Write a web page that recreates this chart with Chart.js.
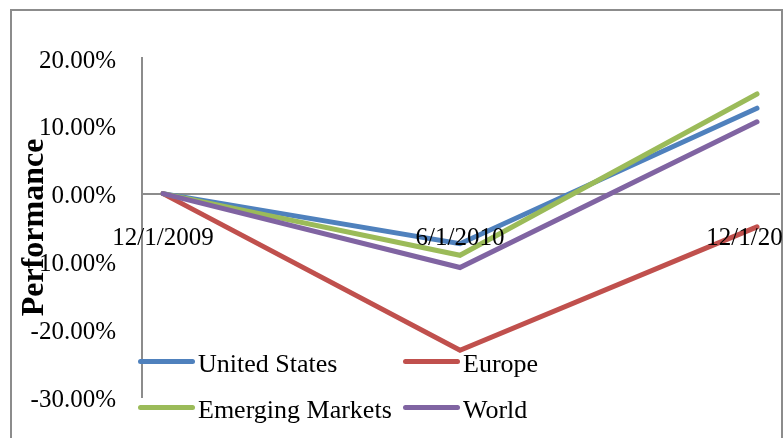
<!DOCTYPE html>
<html lang="en">
<head>
  <meta charset="UTF-8" />
  <title>Performance</title>
  <script src="https://cdn.jsdelivr.net/npm/chart.js"></script>
  <style>
    body {
      margin: 0;
      background: #fff;
      overflow: hidden;
    }
    .wrap {
      position: relative;
      width: 783px;
      height: 438px;
      overflow: hidden;
      font-family: 'Liberation Serif', 'Times New Roman', serif;
    }
    .frame {
      position: absolute;
      left: 10px;
      top: 9px;
      width: 769px;
      height: 440px;
      border: 2px solid #8c8c8c;
    }
    canvas {
      position: absolute;
      left: 0;
      top: 0;
    }
    .legend-item {
      position: absolute;
      height: 30px;
      line-height: 30px;
      font-size: 26px;
      color: #000;
      white-space: nowrap;
    }
    .legend-item .swatch {
      position: absolute;
      left: 0;
      top: 10px;
      width: 57px;
      height: 5px;
      border-radius: 3px;
    }
    .legend-item .txt {
      margin-left: 60px;
    }
  </style>
</head>
<body>
  <div class="wrap">
    <div class="frame"></div>
    <canvas id="chart" width="783" height="438"></canvas>
    <div id="legend"></div>
  </div>
<script>
    // dates on the x axis
    const categories = ['12/1/2009', '6/1/2010', '12/1/2010'];

    // performance in percent
    const unitedStates    = [0, -7.4, 12.6];
    const europe          = [0, -23.1, -4.9];
    const emergingMarkets = [0, -9.1, 14.7];
    const world           = [0, -10.9, 10.6];

    const seriesNames  = ['United States', 'Europe', 'Emerging Markets', 'World'];
    const seriesValues = [unitedStates, europe, emergingMarkets, world];
    const seriesColors = ['#4f81bd', '#c0504d', '#9bbb59', '#8064a2'];

    const yTicks = [-30, -20, -10, 0, 10, 20];

    const fontFamily = "'Liberation Serif', 'Times New Roman', serif";

    const datasets = seriesNames.map((name, i) => ({
      label: name,
      data: seriesValues[i].map((v, j) => ({ x: j, y: v })),
      borderColor: seriesColors[i],
      backgroundColor: seriesColors[i],
      borderWidth: 5,
      borderCapStyle: 'round',
      pointRadius: 0,
      tension: 0,
      fill: false,
      order: seriesNames.length - i   // later series drawn on top, like Excel
    }));

    new Chart(document.getElementById('chart'), {
      type: 'line',
      data: { datasets },
      options: {
        responsive: false,
        animation: false,
        layout: {
          padding: { left: 12, right: 3, top: 58, bottom: 39 }
        },
        plugins: {
          legend: { display: false },
          tooltip: { enabled: false }
        },
        scales: {
          x: {
            type: 'linear',
            position: { y: 0 },
            min: -21 / 297,
            max: 2 + 23 / 297,
            grid: { display: false, drawTicks: false },
            border: { display: false },
            afterBuildTicks: s => { s.ticks = categories.map((c, i) => ({ value: i })); },
            afterFit: s => { s.paddingLeft = 0; s.paddingRight = 0; },
            ticks: {
              z: 1,   // date labels sit on top of the lines
              autoSkip: false,
              maxRotation: 0,
              padding: 30,
              color: '#000',
              font: { family: fontFamily, size: 25 },
              callback: v => categories[v]
            }
          },
          y: {
            min: yTicks[0],
            max: yTicks[yTicks.length - 1],
            afterBuildTicks: s => { s.ticks = yTicks.map(v => ({ value: v })); },
            afterFit: s => { s.width = 130; },
            grid: {
              drawTicks: false,
              lineWidth: 2,
              color: c => (c.tick && c.tick.value === 0 ? '#8c8c8c' : 'rgba(0,0,0,0)')
            },
            border: { display: true, color: '#8c8c8c', width: 2 },
            ticks: {
              padding: 26,
              labelOffset: 3,
              color: '#000',
              font: { family: fontFamily, size: 25 },
              callback: v => v.toFixed(2) + '%'
            },
            title: {
              display: true,
              text: 'Performance',
              color: '#000',
              padding: { top: 4, bottom: 0 },
              font: { family: fontFamily, size: 32, weight: 'bold' }
            }
          }
        }
      }
    });

    // legend drawn inside the plot, two columns like the original
    const legend = document.getElementById('legend');
    seriesNames.forEach((name, i) => {
      const item = document.createElement('div');
      item.className = 'legend-item';
      item.style.left = (138 + (i % 2) * 265) + 'px';
      item.style.top = (349 + Math.floor(i / 2) * 46) + 'px';
      item.innerHTML = '<span class="swatch" style="background:' + seriesColors[i] + '"></span><span class="txt">' + name + '</span>';
      legend.appendChild(item);
    });
  </script>
</body>
</html>
